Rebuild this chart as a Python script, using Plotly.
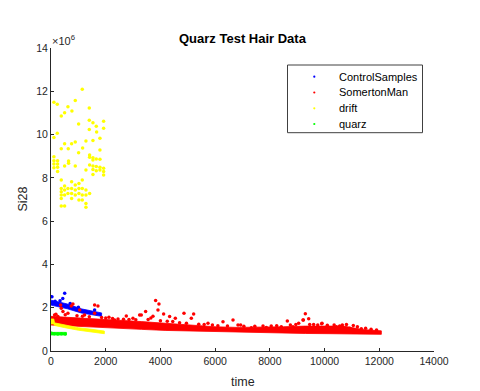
import plotly.graph_objects as go

# ---------------- data (values in units of 1e6 for y) ----------------
# SomertonMan dense band: edges
sm_band_t = [0, 300, 800, 1600, 2500, 3300, 4200, 5100, 6000, 6800, 7600, 8500, 9300, 10200, 10700, 11400, 12075]
sm_band_top = [1.60, 1.58, 1.52, 1.46, 1.40, 1.36, 1.28, 1.19, 1.12, 1.09, 1.09, 1.12, 1.15, 1.13, 1.15, 0.99, 0.93]
sm_band_bot = [1.20, 1.18, 1.15, 1.10, 1.05, 1.00, 0.95, 0.90, 0.88, 0.86, 0.84, 0.83, 0.81, 0.80, 0.79, 0.77, 0.77]
# SomertonMan scattered points (outliers and ragged top edge)
sm_t = [3824, 3946, 3910, 3459, 4117, 4861, 5214, 5129, 4544, 4336, 3727, 5738, 6287, 6653, 3240,
        1594, 1716, 802, 741, 351, 375, 436, 1046, 1594, 2118, 2326, 2752, 2996, 3301, 131, 253, 619, 1228,
        9297, 9212, 9419, 8639, 6932, 6835, 9054, 9456, 9907, 8419, 7871, 7322, 8846, 10004, 10248,
        10649, 10552, 10430, 11344, 10917, 9225, 9894,
        180, 520, 950, 1150, 1400, 1850, 2000, 2250, 2450, 2650, 2850, 3100, 3550, 3650, 4000, 4250, 4450,
        4700, 4950, 5400, 5600, 5900, 6100, 6450, 7050, 7450, 7750, 8050, 8250, 8750, 8950, 9600, 9750,
        10100, 10350, 10800, 11050, 11200, 11500, 11700, 11900]
sm_v = [2.33, 2.17, 1.89, 1.82, 1.71, 1.74, 1.71, 1.51, 1.51, 1.59, 1.61, 1.28, 1.35, 1.43, 1.66,
        2.13, 2.08, 2.17, 2.08, 2.13, 1.97, 1.82, 1.89, 1.74, 1.56, 1.43, 1.62, 1.51, 1.66, 1.66, 1.59, 1.74, 1.66,
        1.72, 1.43, 1.49, 1.39, 1.20, 1.20, 1.28, 1.23, 1.28, 1.12, 1.09, 1.08, 1.12, 1.05, 1.08,
        1.20, 1.15, 1.12, 1.03, 1.05, 1.43, 1.26,
        1.70, 1.68, 1.63, 1.60, 1.58, 1.55, 1.52, 1.50, 1.48, 1.47, 1.45, 1.44, 1.45, 1.52, 1.40, 1.37, 1.36,
        1.30, 1.28, 1.24, 1.22, 1.20, 1.17, 1.15, 1.14, 1.14, 1.16, 1.15, 1.17, 1.20, 1.22, 1.22, 1.20,
        1.19, 1.20, 1.22, 1.18, 1.12, 1.05, 1.00, 0.97]

# ControlSamples band + points
cs_band_t = [0, 250, 600, 1100, 1500, 1850]
cs_band_top = [2.35, 2.27, 2.17, 1.95, 1.85, 1.76]
cs_band_bot = [2.12, 2.05, 1.95, 1.76, 1.68, 1.60]
cs_t = [500, 35, 330, 430, 150, 1594, 700, 1000]
cs_v = [2.67, 2.51, 2.32, 2.42, 2.30, 1.89, 2.20, 2.02]

# drift: lower band + upper cloud of points
dr_band_t = [0, 100, 130, 500, 1000, 1500, 1950]
dr_band_top = [1.48, 1.48, 1.30, 1.20, 1.08, 1.00, 0.92]
dr_band_bot = [1.25, 1.25, 1.18, 1.08, 0.96, 0.87, 0.80]
dr_t = [1143, 107, 229, 887, 619, 765, 497, 375, 1399, 1399, 1533, 1655, 1923, 1923, 1399, 1009, 229, 1667,
        107, 1277, 1533, 1789, 497, 753, 887, 631, 375, 1156, 1009, 1789, 107, 1411, 1411, 1533, 1655, 1533,
        1789, 107, 107, 241, 241, 241, 241, 107, 643, 643, 497, 887, 1411, 1533, 1533, 1655, 1655, 1789, 1789,
        1923, 1923, 1923, 1277, 1533,
        375, 375, 375, 375, 375, 375, 497, 497, 497, 497, 619, 619, 753, 753, 753, 753, 887, 887, 887,
        1021, 1021, 1021, 1021, 1143, 1143, 1143, 1143, 1277, 1277, 1277, 1277, 1411]
dr_v = [12.09, 11.49, 11.40, 11.57, 11.29, 11.09, 11.01, 10.86, 11.23, 10.66, 10.55, 10.39, 10.62, 10.29, 10.24,
        10.49, 10.06, 10.12, 9.86, 9.70, 9.73, 9.83, 9.58, 9.58, 9.66, 9.35, 9.35, 9.38, 9.16, 9.29, 8.98, 9.06,
        8.95, 8.93, 8.87, 8.82, 8.86, 8.79, 8.64, 8.79, 8.64, 8.49, 8.29, 8.47, 8.78, 8.67, 8.55, 8.55, 8.59,
        8.55, 8.39, 8.52, 8.33, 8.49, 8.36, 8.44, 8.29, 8.13, 8.36, 8.16,
        7.90, 7.51, 7.36, 7.21, 7.05, 6.70, 7.62, 7.44, 7.21, 6.70, 7.51, 7.28, 7.82, 7.51, 7.28, 7.05,
        7.67, 7.44, 7.21, 7.74, 7.51, 7.28, 6.98, 7.90, 7.51, 7.21, 6.98, 7.44, 7.21, 6.82, 6.64, 7.28]

# quarz band + points
qz_band_t = [0, 560]
qz_band_top = [0.86, 0.86]
qz_band_bot = [0.74, 0.74]
qz_t = [20, 120, 250, 380, 520]
qz_v = [0.82, 0.80, 0.79, 0.80, 0.78]

legend_names = ["ControlSamples", "SomertonMan", "drift", "quarz"]
legend_colors = ["#0000ff", "#ff0000", "#ffff00", "#00ff00"]

x_ticks = [0, 2000, 4000, 6000, 8000, 10000, 12000, 14000]
y_ticks = [0, 2, 4, 6, 8, 10, 12, 14]

SCALE = 1e6
FONT = "Liberation Sans, Arial, sans-serif"
AX = "#262626"

# The page places the figure 8px from the window's top-left corner.
OFF = 8
PL, PT, PW, PH = 51, 48, 383, 303   # plot area in window pixels


def px_to_paper(x, y):
    return (x - PL) / PW, (PT + PH - y) / PH


fig = go.Figure()


def band(t, top, bot, color):
    xs = list(t) + list(t)[::-1]
    ys = [v * SCALE for v in top] + [v * SCALE for v in bot][::-1]
    fig.add_trace(go.Scatter(x=xs, y=ys, mode="lines", fill="toself", fillcolor=color,
                             line=dict(width=0.8, color=color), showlegend=False, hoverinfo="skip"))


def pts(t, v, color, name):
    fig.add_trace(go.Scatter(x=t, y=[a * SCALE for a in v], mode="markers", name=name, showlegend=False,
                             marker=dict(size=3.5, color=color, line=dict(width=0))))


band(cs_band_t, cs_band_top, cs_band_bot, "#0000ff")
pts(cs_t, cs_v, "#0000ff", "ControlSamples")
band(sm_band_t, sm_band_top, sm_band_bot, "#ff0000")
pts(sm_t, sm_v, "#ff0000", "SomertonMan")
band(dr_band_t, dr_band_top, dr_band_bot, "#ffff00")
pts(dr_t, dr_v, "#ffff00", "drift")
band(qz_band_t, qz_band_top, qz_band_bot, "#00ff00")
pts(qz_t, qz_v, "#00ff00", "quarz")

# ----- legend drawn by hand (MATLAB style) -----
shapes = []
annotations = []
bx0, by0 = px_to_paper(287.5, 132.7)
bx1, by1 = px_to_paper(422.5, 65)
shapes.append(dict(type="rect", xref="paper", yref="paper", x0=bx0, y0=by0, x1=bx1, y1=by1,
                   line=dict(color="#404040", width=1), fillcolor="white", layer="above"))
row_y = [76.7, 92.5, 108.3, 124.0]
for name, col, ry in zip(legend_names, legend_colors, row_y):
    cx0, cy0 = px_to_paper(313.2, ry + 1.1)
    cx1, cy1 = px_to_paper(315.4, ry - 1.1)
    shapes.append(dict(type="circle", xref="paper", yref="paper", x0=cx0, y0=cy0, x1=cx1, y1=cy1,
                       line=dict(width=0), fillcolor=col, layer="above"))
    tx, ty = px_to_paper(336.5, ry)
    annotations.append(dict(text=name, xref="paper", yref="paper", x=tx, y=ty, xanchor="left",
                            yanchor="middle", showarrow=False, font=dict(size=11, color="#000000")))

annotations += [
    dict(text="<b>Quarz Test Hair Data</b>", xref="paper", yref="paper", x=0.5, y=1, yshift=10,
         xanchor="center", yanchor="middle", showarrow=False, font=dict(size=13, color="#000000")),
    dict(text="×10<sup>6</sup>", xref="paper", yref="paper", x=0, y=1, xshift=-1, yshift=-1,
         xanchor="left", yanchor="bottom", showarrow=False, font=dict(size=11, color=AX)),
    dict(text="Si28", xref="paper", yref="paper", x=0, y=0.5, xshift=-29, textangle=-90,
         xanchor="center", yanchor="middle", showarrow=False, font=dict(size=12.5, color=AX)),
    dict(text="time", xref="paper", yref="paper", x=0.5, y=0, yshift=-31,
         xanchor="center", yanchor="middle", showarrow=False, font=dict(size=12.5, color=AX)),
]

fig.update_layout(
    width=480 - OFF, height=391 - OFF,
    margin=dict(l=PL - OFF, r=480 - OFF - (PL - OFF) - PW, t=PT - OFF, b=391 - OFF - (PT - OFF) - PH),
    paper_bgcolor="white", plot_bgcolor="white",
    font=dict(family=FONT, size=10.5, color=AX),
    showlegend=False,
    xaxis=dict(range=[0, 14000], tickvals=x_ticks, ticktext=[str(v) for v in x_ticks],
               ticks="inside", ticklen=3, tickcolor=AX, showline=True, linecolor=AX, linewidth=1,
               showgrid=False, zeroline=False, tickfont=dict(size=10.5, color=AX)),
    yaxis=dict(range=[0, 14 * SCALE], tickvals=[v * SCALE for v in y_ticks], ticktext=[str(v) for v in y_ticks],
               ticks="inside", ticklen=3, tickcolor=AX, showline=True, linecolor=AX, linewidth=1,
               showgrid=False, zeroline=False, tickfont=dict(size=10.5, color=AX)),
    shapes=shapes,
    annotations=annotations,
)

fig.write_html("out.html")
